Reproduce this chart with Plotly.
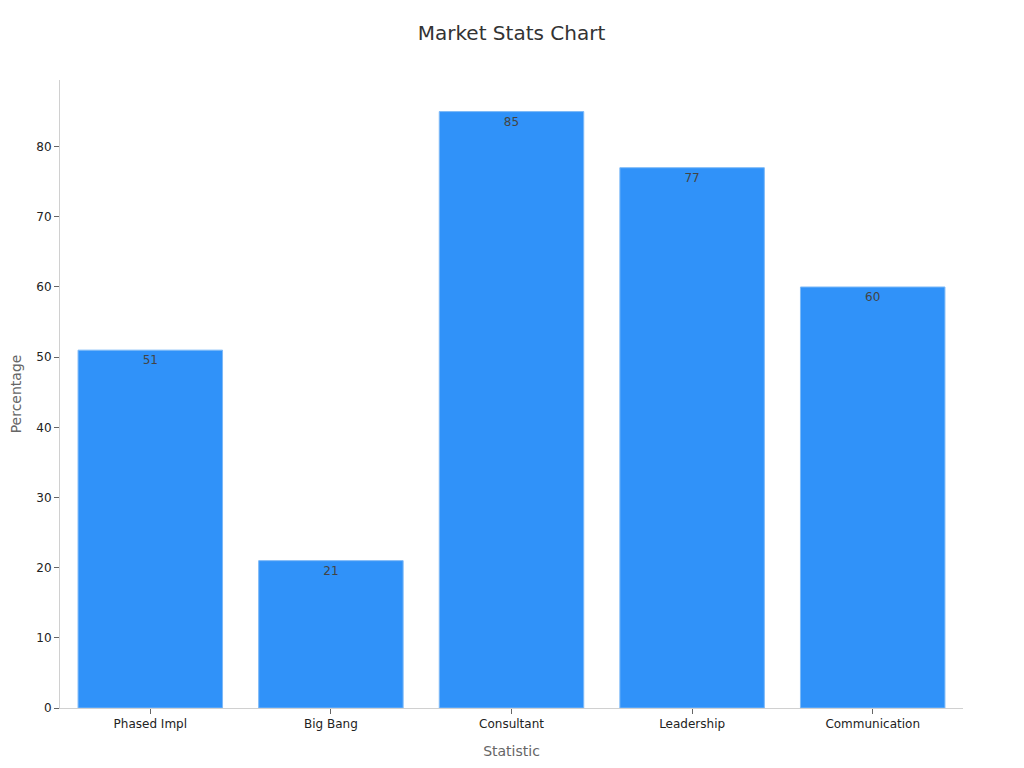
import plotly.graph_objects as go

categories = ["Phased Impl", "Big Bang", "Consultant", "Leadership", "Communication"]
values = [51, 21, 85, 77, 60]

fig = go.Figure(go.Bar(
    x=categories, y=values,
    text=[str(v) for v in values], textposition="inside", insidetextanchor="end",
    textfont=dict(color="#444444", size=12, family="DejaVu Sans"),
    marker=dict(color="#3092F9", line=dict(color="#7DB9F7", width=1)),
))
fig.update_layout(
    width=1024, height=768,
    paper_bgcolor="white", plot_bgcolor="white",
    margin=dict(l=52, r=69, t=72, b=68),
    bargap=0.2,
    font=dict(family="DejaVu Sans", color="#222222", size=12),
    title=dict(text="Market Stats Chart", xref="paper", x=0.5, xanchor="center", y=1 - 25 / 768, yanchor="middle",
               font=dict(size=20, color="#333333", family="DejaVu Sans")),
    showlegend=False,
)
fig.update_xaxes(title=dict(text="Statistic", font=dict(size=14, color="#666666"), standoff=15),
                 automargin=False,
                 showline=True, linecolor="#D0D0D0", linewidth=1,
                 ticks="outside", tickcolor="#666666", ticklen=5, tickfont=dict(size=12, color="#222222"))
fig.update_yaxes(title=dict(text="Percentage", font=dict(size=14, color="#666666"), standoff=21),
                 automargin=False,
                 range=[0, 89.5], dtick=10, showgrid=False, zeroline=False,
                 showline=True, linecolor="#D0D0D0", linewidth=1,
                 ticks="outside", tickcolor="#666666", ticklen=5, tickfont=dict(size=12, color="#222222"))
fig.write_html("out.html")
